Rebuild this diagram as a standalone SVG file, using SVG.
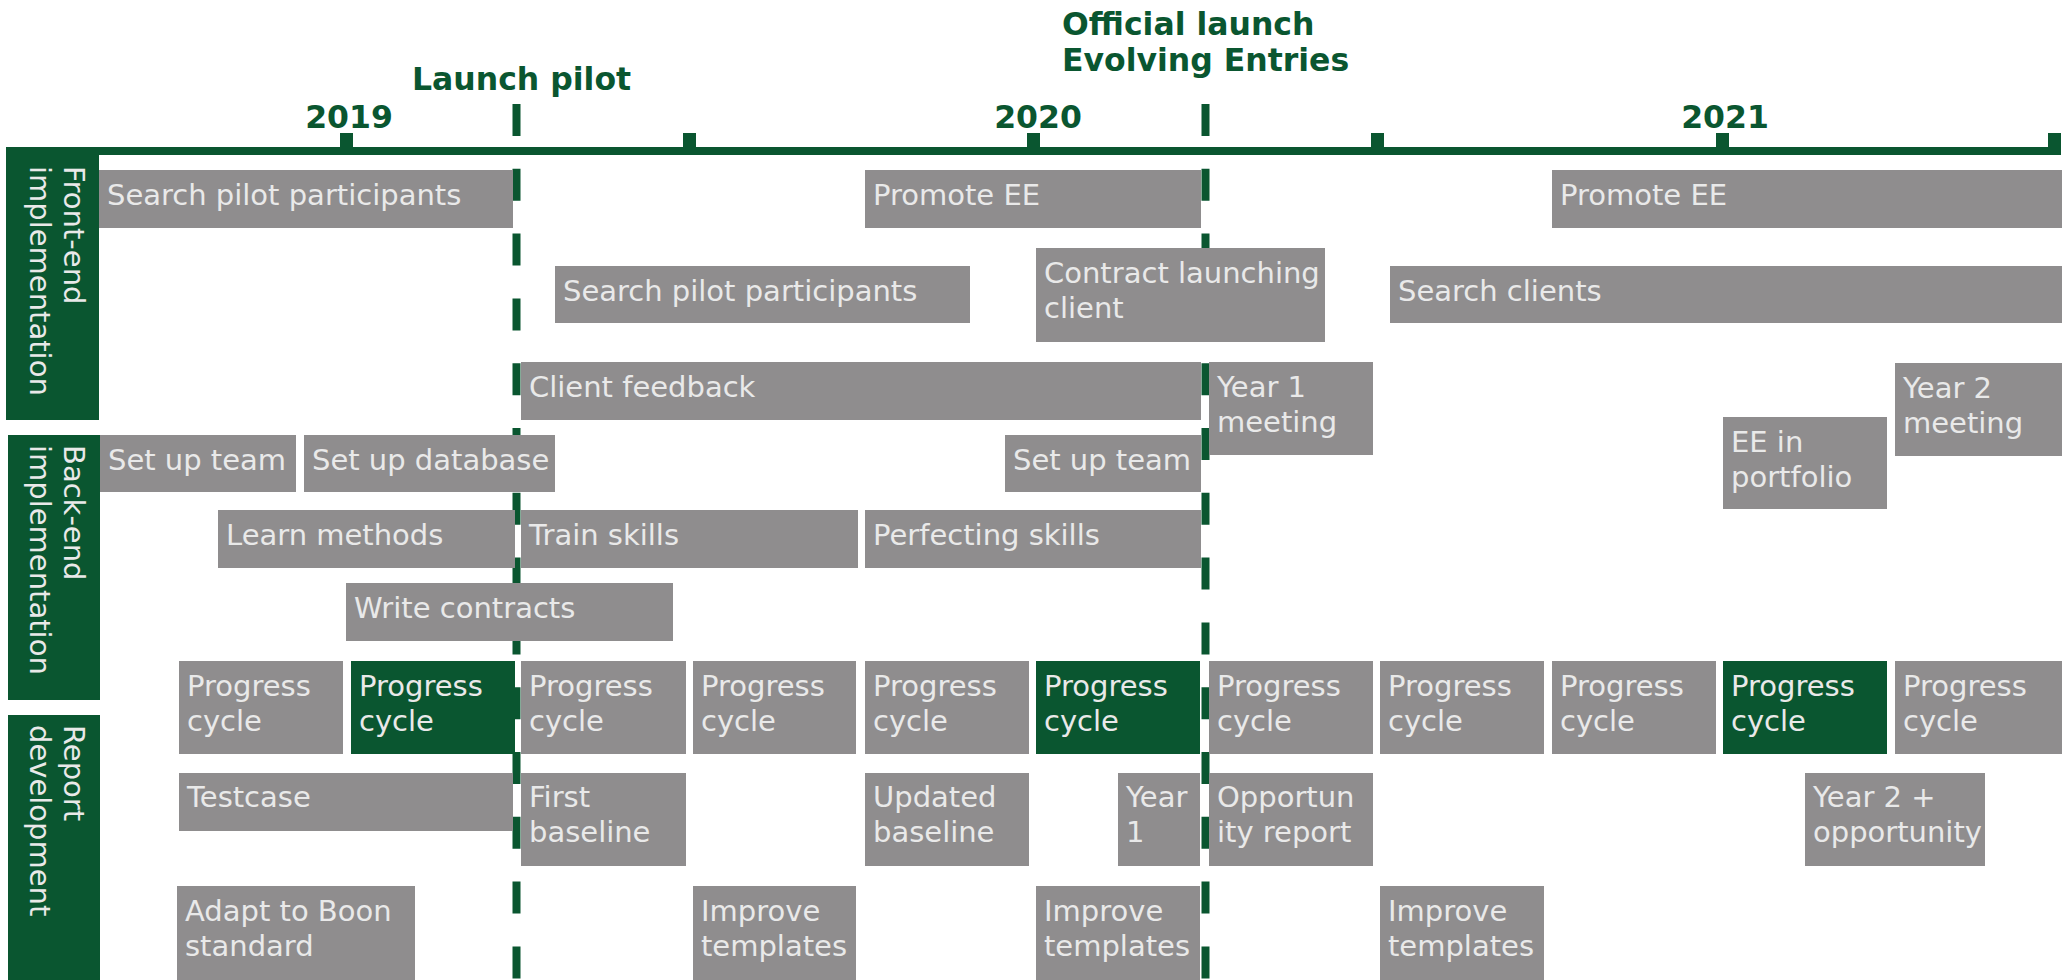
<svg xmlns="http://www.w3.org/2000/svg" width="2067" height="980" viewBox="0 0 2067 980">
<style>
.b{fill:#8f8d8e}
.g{fill:#0a5630}
.t{font-family:"DejaVu Sans","Verdana",sans-serif;font-size:29px;fill:#e9e9e9}
.h{font-family:"DejaVu Sans","Verdana",sans-serif;font-size:31.5px;font-weight:bold;fill:#0a5630}
.m{stroke:#0a5630;stroke-width:8;stroke-dasharray:32 32.8;fill:none}
</style>
<rect width="2067" height="980" fill="#ffffff"/>

<g id="headings">
<text class="h" x="349" y="128" text-anchor="middle">2019</text>
<text class="h" x="1038" y="128" text-anchor="middle">2020</text>
<text class="h" x="1725" y="128" text-anchor="middle">2021</text>
<text class="h" x="412" y="90">Launch pilot</text>
<text class="h" x="1062" y="35">Official launch</text>
<text class="h" x="1062" y="71">Evolving Entries</text>
</g>

<g id="connectors">
<line class="m" x1="516.5" y1="104" x2="516.5" y2="980"/>
<line class="m" x1="1205.5" y1="104" x2="1205.5" y2="980"/>
</g>

<g id="timeline">
<rect class="g" x="6" y="147" width="2055" height="8"/>
<rect class="g" x="340" y="133" width="13" height="18"/>
<rect class="g" x="683" y="133" width="13" height="18"/>
<rect class="g" x="1027" y="133" width="13" height="18"/>
<rect class="g" x="1371" y="133" width="13" height="18"/>
<rect class="g" x="1716" y="133" width="13" height="18"/>
<rect class="g" x="2048" y="133" width="13" height="18"/>
</g>

<g id="lane-front">
<rect class="g" x="6" y="147" width="93" height="273"/>
<text class="t" transform="translate(64,166) rotate(90)">Front-end</text>
<text class="t" transform="translate(30,166) rotate(90)">implementation</text>
</g>
<g id="lane-back">
<rect class="g" x="8" y="435" width="92" height="265"/>
<text class="t" transform="translate(64,445) rotate(90)">Back-end</text>
<text class="t" transform="translate(30,445) rotate(90)">implementation</text>
</g>
<g id="lane-report">
<rect class="g" x="8" y="715" width="92" height="265"/>
<text class="t" transform="translate(64,725) rotate(90)">Report</text>
<text class="t" transform="translate(30,725) rotate(90)">development</text>
</g>

<g id="search-pilot-1"><rect class="b" x="99" y="170" width="414" height="58"/><text class="t" x="107" y="205">Search pilot participants</text></g>
<g id="promote-ee-1"><rect class="b" x="865" y="170" width="336" height="58"/><text class="t" x="873" y="205">Promote EE</text></g>
<g id="promote-ee-2"><rect class="b" x="1552" y="170" width="510" height="58"/><text class="t" x="1560" y="205">Promote EE</text></g>
<g id="search-pilot-2"><rect class="b" x="555" y="266" width="415" height="57"/><text class="t" x="563" y="301">Search pilot participants</text></g>
<g id="contract-client"><rect class="b" x="1036" y="248" width="289" height="94"/><text class="t" x="1044" y="283">Contract launching</text><text class="t" x="1044" y="318">client</text></g>
<g id="search-clients"><rect class="b" x="1390" y="266" width="672" height="57"/><text class="t" x="1398" y="301">Search clients</text></g>
<g id="client-feedback"><rect class="b" x="521" y="362" width="680" height="58"/><text class="t" x="529" y="397">Client feedback</text></g>
<g id="year1-meeting"><rect class="b" x="1209" y="362" width="164" height="93"/><text class="t" x="1217" y="397">Year 1</text><text class="t" x="1217" y="432">meeting</text></g>
<g id="year2-meeting"><rect class="b" x="1895" y="363" width="167" height="93"/><text class="t" x="1903" y="398">Year 2</text><text class="t" x="1903" y="433">meeting</text></g>
<g id="ee-portfolio"><rect class="b" x="1723" y="417" width="164" height="92"/><text class="t" x="1731" y="452">EE in</text><text class="t" x="1731" y="487">portfolio</text></g>

<g id="setup-team-1"><rect class="b" x="100" y="435" width="196" height="57"/><text class="t" x="108" y="470">Set up team</text></g>
<g id="setup-database"><rect class="b" x="304" y="435" width="251" height="57"/><text class="t" x="312" y="470">Set up database</text></g>
<g id="setup-team-2"><rect class="b" x="1005" y="435" width="196" height="57"/><text class="t" x="1013" y="470">Set up team</text></g>
<g id="learn-methods"><rect class="b" x="218" y="510" width="297" height="58"/><text class="t" x="226" y="545">Learn methods</text></g>
<g id="train-skills"><rect class="b" x="521" y="510" width="337" height="58"/><text class="t" x="529" y="545">Train skills</text></g>
<g id="perfecting-skills"><rect class="b" x="865" y="510" width="336" height="58"/><text class="t" x="873" y="545">Perfecting skills</text></g>
<g id="write-contracts"><rect class="b" x="346" y="583" width="327" height="58"/><text class="t" x="354" y="618">Write contracts</text></g>

<g id="pc-1"><rect class="b" x="179" y="661" width="164" height="93"/><text class="t" x="187" y="696">Progress</text><text class="t" x="187" y="731">cycle</text></g>
<g id="pc-2"><rect class="g" x="351" y="661" width="164" height="93"/><text class="t" x="359" y="696">Progress</text><text class="t" x="359" y="731">cycle</text></g>
<g id="pc-3"><rect class="b" x="521" y="661" width="165" height="93"/><text class="t" x="529" y="696">Progress</text><text class="t" x="529" y="731">cycle</text></g>
<g id="pc-4"><rect class="b" x="693" y="661" width="163" height="93"/><text class="t" x="701" y="696">Progress</text><text class="t" x="701" y="731">cycle</text></g>
<g id="pc-5"><rect class="b" x="865" y="661" width="164" height="93"/><text class="t" x="873" y="696">Progress</text><text class="t" x="873" y="731">cycle</text></g>
<g id="pc-6"><rect class="g" x="1036" y="661" width="164" height="93"/><text class="t" x="1044" y="696">Progress</text><text class="t" x="1044" y="731">cycle</text></g>
<g id="pc-7"><rect class="b" x="1209" y="661" width="164" height="93"/><text class="t" x="1217" y="696">Progress</text><text class="t" x="1217" y="731">cycle</text></g>
<g id="pc-8"><rect class="b" x="1380" y="661" width="164" height="93"/><text class="t" x="1388" y="696">Progress</text><text class="t" x="1388" y="731">cycle</text></g>
<g id="pc-9"><rect class="b" x="1552" y="661" width="164" height="93"/><text class="t" x="1560" y="696">Progress</text><text class="t" x="1560" y="731">cycle</text></g>
<g id="pc-10"><rect class="g" x="1723" y="661" width="164" height="93"/><text class="t" x="1731" y="696">Progress</text><text class="t" x="1731" y="731">cycle</text></g>
<g id="pc-11"><rect class="b" x="1895" y="661" width="167" height="93"/><text class="t" x="1903" y="696">Progress</text><text class="t" x="1903" y="731">cycle</text></g>

<g id="testcase"><rect class="b" x="179" y="773" width="334" height="58"/><text class="t" x="187" y="807">Testcase</text></g>
<g id="first-baseline"><rect class="b" x="521" y="773" width="165" height="93"/><text class="t" x="529" y="807">First</text><text class="t" x="529" y="842">baseline</text></g>
<g id="updated-baseline"><rect class="b" x="865" y="773" width="164" height="93"/><text class="t" x="873" y="807">Updated</text><text class="t" x="873" y="842">baseline</text></g>
<g id="year1"><rect class="b" x="1118" y="773" width="82" height="93"/><text class="t" x="1126" y="807">Year</text><text class="t" x="1126" y="842">1</text></g>
<g id="opportunity-report"><rect class="b" x="1209" y="773" width="164" height="93"/><text class="t" x="1217" y="807">Opportun</text><text class="t" x="1217" y="842">ity report</text></g>
<g id="year2-opportunity"><rect class="b" x="1805" y="773" width="180" height="93"/><text class="t" x="1813" y="807">Year 2 +</text><text class="t" x="1813" y="842">opportunity</text></g>

<g id="adapt-boon"><rect class="b" x="177" y="886" width="238" height="94"/><text class="t" x="185" y="921">Adapt to Boon</text><text class="t" x="185" y="956">standard</text></g>
<g id="improve-1"><rect class="b" x="693" y="886" width="163" height="94"/><text class="t" x="701" y="921">Improve</text><text class="t" x="701" y="956">templates</text></g>
<g id="improve-2"><rect class="b" x="1036" y="886" width="164" height="94"/><text class="t" x="1044" y="921">Improve</text><text class="t" x="1044" y="956">templates</text></g>
<g id="improve-3"><rect class="b" x="1380" y="886" width="164" height="94"/><text class="t" x="1388" y="921">Improve</text><text class="t" x="1388" y="956">templates</text></g>
</svg>
